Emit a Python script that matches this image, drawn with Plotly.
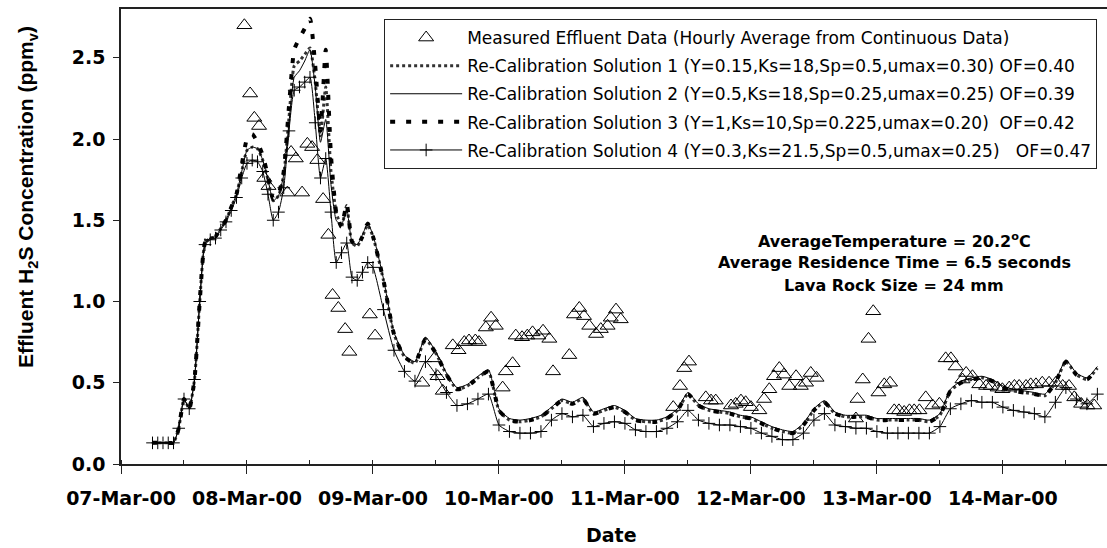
import pandas as pd
import plotly.graph_objects as go

START = pd.Timestamp("2000-03-07 00:00")

# Measured effluent H2S (hourly averages): hours after 07-Mar-00 00:00, ppmv
meas_hours = [23.5, 24.6, 25.4, 26.3, 27.3, 28.1, 31.7, 32.4, 33.3, 34.5,
              35.5, 36.4, 37.4, 38.5, 39.5, 40.3, 41.4, 42.7, 43.5, 47.4,
              48.4, 57.4, 59.7, 60.3, 61.3, 63.2, 64.3, 65.4, 66.3, 67.5,
              68.2, 69.5, 70.5, 71.4, 72.7, 73.3, 74.6, 75.2, 76.4, 77.4,
              78.4, 79.5, 80.4, 81.6, 82.3, 85.4, 86.3, 87.3, 88.2, 89.2,
              90.5, 91.4, 92.7, 93.3, 94.3, 95.2, 105.2, 106.5, 107.3, 108.2,
              111.4, 112.4, 113.3, 116.2, 117.1, 118.1, 119.0, 120.0, 121.6, 122.5,
              123.5, 124.4, 125.4, 126.3, 127.3, 128.6, 129.5, 130.5, 131.4, 132.5,
              140.0, 140.3, 141.3, 142.4, 143.3, 144.3, 145.4, 146.5, 147.3, 148.2,
              149.2, 150.2, 151.1, 152.1, 153.3, 154.6, 155.9, 157.1, 158.1, 159.0,
              160.3, 161.0, 162.2, 163.5, 164.8, 165.7, 167.0, 167.9, 169.2, 170.2,
              171.1, 172.4, 173.3, 174.3, 175.5, 176.8, 178.1, 179.4, 180.6, 181.6,
              182.9, 184.1, 185.4]
meas_ppm = [2.70, 2.28, 2.13, 2.08, 1.76, 1.71, 1.67, 1.92, 1.88, 1.67,
            1.97, 1.95, 1.87, 1.63, 1.41, 1.04, 0.96, 0.83, 0.69, 0.92,
            0.79, 0.50, 0.65, 0.54, 0.45, 0.73, 0.70, 0.75, 0.76, 0.76,
            0.75, 0.84, 0.90, 0.85, 0.47, 0.57, 0.62, 0.79, 0.78, 0.79,
            0.81, 0.79, 0.82, 0.77, 0.57, 0.67, 0.92, 0.96, 0.91, 0.85,
            0.80, 0.83, 0.85, 0.90, 0.95, 0.89, 0.35, 0.48, 0.59, 0.63,
            0.41, 0.39, 0.39, 0.36, 0.37, 0.39, 0.38, 0.35, 0.33, 0.40,
            0.46, 0.54, 0.59, 0.55, 0.48, 0.54, 0.48, 0.50, 0.56, 0.53,
            0.28, 0.40, 0.52, 0.77, 0.94, 0.44, 0.49, 0.50, 0.33, 0.33,
            0.32, 0.33, 0.33, 0.33, 0.41, 0.36, 0.37, 0.65, 0.65, 0.60,
            0.52, 0.56, 0.54, 0.49, 0.48, 0.48, 0.47, 0.46, 0.47, 0.48,
            0.48, 0.48, 0.49, 0.49, 0.50, 0.50, 0.50, 0.48, 0.48, 0.41,
            0.37, 0.36, 0.36]

# Model output times (hours after 07-Mar-00 00:00)
model_hours = [6, 7, 8, 9, 10, 11, 12, 13, 14, 15, 16, 17, 18, 19, 20, 21, 22,
               23, 24, 25, 26, 27, 28, 29, 30, 31, 32, 33, 34, 35, 36, 37, 38,
               39, 40, 41, 42, 43, 44, 45, 46, 47, 48,
               50, 52, 54, 56, 58, 60, 62, 64, 66, 68,
               70, 72, 74, 76, 78, 80, 82, 84, 86, 88,
               90, 92, 94, 96, 98, 100, 102, 104, 106, 108,
               110, 112, 114, 116, 118, 120, 122, 124, 126, 128,
               130, 132, 134, 136, 138, 140, 142, 144, 146, 148,
               150, 152, 154, 156, 158, 160, 162, 164, 166, 168,
               170, 172, 174, 176, 178, 180, 182, 184, 186]

sol1 = [0.13, 0.13, 0.13, 0.13, 0.13, 0.22, 0.40, 0.34, 0.52, 1.00, 1.36, 1.39, 1.40, 1.45, 1.50, 1.58, 1.66,
        1.80, 1.93, 1.95, 1.94, 1.87, 1.75, 1.62, 1.65, 1.78, 2.13, 2.45, 2.48, 2.52, 2.56, 2.35, 2.02,
        2.32, 1.80, 1.55, 1.46, 1.59, 1.36, 1.34, 1.40, 1.47, 1.40,
        1.13, 0.80, 0.66, 0.62, 0.77, 0.68, 0.55, 0.46, 0.48, 0.53,
        0.57, 0.33, 0.27, 0.26, 0.27, 0.29, 0.34, 0.39, 0.37, 0.40,
        0.31, 0.33, 0.35, 0.32, 0.27, 0.26, 0.26, 0.28, 0.33, 0.43,
        0.36, 0.33, 0.32, 0.31, 0.29, 0.28, 0.25, 0.22, 0.20, 0.19,
        0.24, 0.33, 0.38, 0.31, 0.29, 0.29, 0.29, 0.27, 0.27, 0.27,
        0.27, 0.27, 0.26, 0.30, 0.45, 0.50, 0.52, 0.53, 0.51, 0.47,
        0.45, 0.44, 0.43, 0.42, 0.50, 0.63, 0.55, 0.52, 0.59]

sol2 = [0.13, 0.13, 0.13, 0.13, 0.13, 0.22, 0.40, 0.34, 0.52, 1.00, 1.36, 1.39, 1.40, 1.45, 1.50, 1.58, 1.66,
        1.80, 1.93, 1.95, 1.94, 1.87, 1.75, 1.62, 1.65, 1.78, 2.10, 2.38, 2.42, 2.48, 2.55, 2.32, 1.98,
        2.12, 1.72, 1.50, 1.47, 1.57, 1.37, 1.35, 1.41, 1.48, 1.41,
        1.14, 0.81, 0.67, 0.63, 0.78, 0.69, 0.56, 0.47, 0.49, 0.54,
        0.58, 0.34, 0.28, 0.27, 0.28, 0.30, 0.35, 0.40, 0.38, 0.41,
        0.32, 0.34, 0.36, 0.33, 0.28, 0.27, 0.27, 0.29, 0.34, 0.44,
        0.37, 0.34, 0.33, 0.32, 0.30, 0.29, 0.26, 0.23, 0.21, 0.20,
        0.25, 0.34, 0.39, 0.32, 0.30, 0.30, 0.30, 0.28, 0.28, 0.28,
        0.28, 0.28, 0.27, 0.31, 0.46, 0.51, 0.53, 0.54, 0.52, 0.48,
        0.46, 0.45, 0.44, 0.43, 0.51, 0.64, 0.56, 0.53, 0.60]

sol3 = [0.13, 0.13, 0.13, 0.13, 0.13, 0.22, 0.40, 0.34, 0.52, 1.00, 1.36, 1.39, 1.40, 1.45, 1.50, 1.58, 1.66,
        1.84, 2.00, 2.03, 1.98, 1.90, 1.77, 1.63, 1.66, 1.80, 2.20, 2.55, 2.62, 2.68, 2.74, 2.45, 2.05,
        2.55, 1.90, 1.55, 1.46, 1.60, 1.37, 1.34, 1.40, 1.48, 1.40,
        1.13, 0.80, 0.66, 0.62, 0.77, 0.68, 0.55, 0.46, 0.48, 0.53,
        0.57, 0.33, 0.27, 0.26, 0.27, 0.29, 0.34, 0.39, 0.37, 0.40,
        0.31, 0.33, 0.35, 0.32, 0.27, 0.26, 0.26, 0.28, 0.33, 0.43,
        0.36, 0.33, 0.32, 0.31, 0.29, 0.28, 0.25, 0.22, 0.20, 0.19,
        0.24, 0.33, 0.38, 0.31, 0.29, 0.29, 0.29, 0.27, 0.27, 0.27,
        0.27, 0.27, 0.26, 0.30, 0.45, 0.50, 0.52, 0.53, 0.51, 0.47,
        0.45, 0.44, 0.43, 0.42, 0.50, 0.63, 0.55, 0.52, 0.59]

sol4 = [0.13, 0.13, 0.13, 0.13, 0.13, 0.22, 0.40, 0.34, 0.52, 1.00, 1.35, 1.38, 1.39, 1.44, 1.49, 1.56, 1.64,
        1.76, 1.85, 1.87, 1.86, 1.80, 1.66, 1.50, 1.55, 1.70, 2.05, 2.30, 2.32, 2.35, 2.38, 2.10, 1.76,
        1.88, 1.55, 1.24, 1.30, 1.36, 1.15, 1.13, 1.18, 1.24, 1.21,
        0.95, 0.70, 0.57, 0.51, 0.63, 0.55, 0.44, 0.36, 0.37, 0.40,
        0.43, 0.24, 0.20, 0.19, 0.19, 0.20, 0.27, 0.31, 0.29, 0.30,
        0.23, 0.25, 0.26, 0.25, 0.21, 0.20, 0.20, 0.22, 0.26, 0.33,
        0.27, 0.25, 0.24, 0.24, 0.23, 0.22, 0.19, 0.17, 0.15, 0.15,
        0.19, 0.27, 0.31, 0.24, 0.23, 0.22, 0.22, 0.20, 0.19, 0.19,
        0.19, 0.19, 0.19, 0.23, 0.34, 0.37, 0.39, 0.38, 0.38, 0.35,
        0.33, 0.32, 0.31, 0.29, 0.38, 0.47, 0.40, 0.37, 0.43]

series_names = [
    "Measured Effluent Data (Hourly Average from Continuous Data)",
    "Re-Calibration Solution 1 (Y=0.15,Ks=18,Sp=0.5,umax=0.30) OF=0.40",
    "Re-Calibration Solution 2 (Y=0.5,Ks=18,Sp=0.25,umax=0.25) OF=0.39",
    "Re-Calibration Solution 3 (Y=1,Ks=10,Sp=0.225,umax=0.20)  OF=0.42",
    "Re-Calibration Solution 4 (Y=0.3,Ks=21.5,Sp=0.5,umax=0.25)   OF=0.47",
]

notes = ["AverageTemperature = 20.2<sup>o</sup>C",
         "Average Residence Time = 6.5 seconds",
         "Lava Rock Size = 24 mm"]

for s in (sol1, sol2, sol3, sol4):
    assert len(s) == len(model_hours)
assert len(meas_hours) == len(meas_ppm)


def to_time(hours):
    return [START + pd.Timedelta(hours=h) for h in hours]


t_meas = to_time(meas_hours)
t_model = to_time(model_hours)

fig = go.Figure()

fig.add_trace(go.Scatter(
    x=t_meas, y=meas_ppm, mode="markers", name=series_names[0], legendgroup="m",
    marker=dict(symbol="triangle-up-open", size=13, color="black",
                line=dict(width=1, color="black")),
))
fig.add_trace(go.Scatter(
    x=t_model, y=sol1, mode="lines", name=series_names[1], legendgroup="s1",
    line=dict(color="#333333", width=3, dash="dot", shape="spline", smoothing=0.5),
))
fig.add_trace(go.Scatter(
    x=t_model, y=sol2, mode="lines", name=series_names[2], legendgroup="s2",
    line=dict(color="black", width=1, shape="spline", smoothing=0.5),
))
fig.add_trace(go.Scatter(
    x=t_model, y=sol3, mode="lines", name=series_names[3], legendgroup="s3",
    line=dict(color="black", width=4, dash="5px,11px", shape="spline", smoothing=0.5),
))
fig.add_trace(go.Scatter(
    x=t_model, y=sol4, mode="lines+markers", name=series_names[4], legendgroup="s4",
    line=dict(color="black", width=1, shape="spline", smoothing=0.5),
    marker=dict(symbol="cross-thin-open", size=9, color="black",
                line=dict(width=1, color="black")),
))

TICK_FONT = dict(family="DejaVu Sans", size=19, color="black", weight="bold")

fig.update_xaxes(
    type="date",
    range=["2000-03-07 00:00", "2000-03-14 19:50"],
    tick0="2000-03-07", dtick=86400000, tickformat="%d-%b-%y",
    ticks="outside", ticklen=8, tickwidth=1, tickcolor="#222",
    minor=dict(dtick=43200000, ticks="inside", ticklen=4, tickwidth=1, tickcolor="#222"),
    showline=True, linecolor="#222", linewidth=1.5, mirror=True,
    showgrid=False, zeroline=False,
    tickfont=TICK_FONT, ticklabelstandoff=8,
)
fig.update_yaxes(
    range=[0, 2.8], tick0=0, dtick=0.5, tickformat=".1f",
    ticks="outside", ticklen=6, tickwidth=1, tickcolor="#222",
    showline=True, linecolor="#222", linewidth=1.5,
    showgrid=False, zeroline=False,
    tickfont=TICK_FONT, ticklabelstandoff=4,
)

annotations = [
    dict(text="Effluent H<sub>2</sub>S Concentration (ppm<sub>v</sub>)",
         xref="paper", yref="paper", x=-0.0953, y=0.587, textangle=-90,
         showarrow=False, xanchor="center", yanchor="middle",
         font=dict(family="Liberation Sans", size=21, color="black", weight="bold")),
    dict(text="Date", xref="paper", yref="paper", x=0.497, y=-0.156,
         showarrow=False, xanchor="center", yanchor="middle",
         font=TICK_FONT),
]
for txt, yp in zip(notes, [0.4923, 0.4418, 0.3934]):
    annotations.append(dict(
        text=txt, xref="paper", yref="paper", x=0.784, y=yp,
        showarrow=False, xanchor="center", yanchor="middle",
        font=dict(family="DejaVu Sans", size=16, color="black", weight="bold")))

fig.update_layout(
    width=1107, height=548,
    margin=dict(l=121, r=0, t=9, b=84),
    paper_bgcolor="white", plot_bgcolor="white",
    showlegend=True,
    legend=dict(
        x=0.99, y=0.978, xanchor="right", yanchor="top",
        bgcolor="white", bordercolor="#222", borderwidth=1,
        font=dict(family="DejaVu Sans", size=17, color="black"),
        itemwidth=72, traceorder="grouped", tracegroupgap=3,
    ),
    annotations=annotations,
)

fig.write_html("out.html")
